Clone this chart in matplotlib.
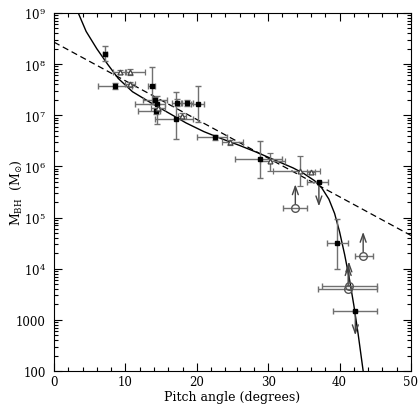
import matplotlib
matplotlib.use("Agg")
import matplotlib.pyplot as plt
import matplotlib.ticker as mticker
import numpy as np

plt.rcParams['font.family'] = ['DejaVu Serif']
plt.rcParams['mathtext.fontset'] = 'dejavuserif'
plt.rcParams['font.size'] = 8.5

# filled squares (log10 of mass)
sq_x = [7.1, 8.5, 13.7, 14.1, 14.4, 14.3, 17.2, 17.1, 18.6, 20.1, 22.5, 28.9, 37.1, 39.7, 42.2]
sq_m = [8.20, 7.58, 7.58, 7.29, 7.22, 7.09, 7.25, 6.93, 7.24, 7.22, 6.57, 6.14, 5.69, 4.50, 3.17]
sq_xlo = [6.8, 6.2, 13.2, 12.5, 11.3, 11.8, 16.5, 14.1, 17.8, 19.2, 20.0, 25.4, 35.4, 38.2, 39.1]
sq_xhi = [7.4, 10.9, 14.2, 15.8, 15.5, 14.9, 17.9, 19.5, 19.4, 21.0, 24.2, 32.0, 38.4, 41.2, 45.2]
sq_mlo = [8.06, 7.52, 7.22, 7.22, 6.83, 7.03, 7.19, 6.54, 7.18, 6.87, 6.52, 5.77, 5.69, 4.00, 3.17]
sq_mhi = [8.36, 7.64, 7.94, 7.36, 7.38, 7.15, 7.31, 7.46, 7.30, 7.57, 6.62, 6.50, 5.69, 4.97, 3.17]
# upper limits (down arrows) among the squares
ul_x = [37.1, 42.2]
ul_m = [5.69, 3.17]

# open triangles
tr_x = [9.2, 10.6, 10.6, 14.6, 17.9, 24.6, 30.3, 34.5, 36.0]
tr_m = [7.84, 7.84, 7.61, 7.15, 6.99, 6.47, 6.11, 5.92, 5.89]
tr_xlo = [8.3, 9.9, 9.9, 13.6, 17.3, 23.5, 28.9, 30.7, 35.4]
tr_xhi = [10.1, 12.7, 11.3, 15.6, 18.5, 26.5, 32.4, 37.3, 36.6]
tr_mlo = [7.80, 7.78, 7.56, 7.08, 6.93, 6.42, 5.92, 5.62, 5.86]
tr_mhi = [7.88, 7.90, 7.66, 7.22, 7.05, 6.52, 6.26, 6.21, 5.92]

# open circles, lower limits (up arrows)
ci_x = [33.8, 43.3, 41.3, 41.2]
ci_m = [5.18, 4.25, 3.67, 3.60]
ci_xlo = [32.1, 42.2, 37.5, 37.0]
ci_xhi = [35.4, 44.7, 45.2, 45.2]

# solid curve
cv_x = [3.4, 4.5, 6.0, 7.5, 9.0, 11.0, 13.5, 16.0, 18.5, 21.0, 23.5, 26.0, 28.5, 31.0,
        33.5, 35.0, 36.5, 37.5, 38.5, 39.3, 40.0, 40.7, 41.4, 42.0, 42.6, 43.3]
cv_m = [9.00, 8.64, 8.30, 8.00, 7.72, 7.46, 7.25, 7.05, 6.85, 6.68, 6.54, 6.41, 6.27, 6.12,
        5.97, 5.86, 5.72, 5.58, 5.36, 5.08, 4.72, 4.28, 3.78, 3.28, 2.72, 2.00]

# dashed linear fit
ln_x = [0, 50]
ln_m = [8.43, 4.65]

y_exp = [2, 3, 4, 5, 6, 7, 8, 9]
y_labels = ['100', '1000', r'$10^{4}$', r'$10^{5}$', r'$10^{6}$', r'$10^{7}$', r'$10^{8}$', r'$10^{9}$']

arrow_len = 0.47
ecol = '#707070'

fig = plt.figure(figsize=(4.2, 4.14), dpi=100)
ax = fig.add_axes([54/420, 42/414, 357/420, 358/414])

def pw(a):
    return 10**np.array(a, dtype=float)

ax.plot(cv_x, pw(cv_m), color='black', lw=1.0, zorder=3)
ax.plot(ln_x, pw(ln_m), color='black', lw=0.9, ls=(0, (5, 3)), zorder=3)

sx = np.array(sq_x); sm = np.array(sq_m)
ax.errorbar(sx, pw(sm),
            xerr=[sx - np.array(sq_xlo), np.array(sq_xhi) - sx],
            yerr=[pw(sm) - pw(sq_mlo), pw(sq_mhi) - pw(sm)],
            fmt='s', ms=3.5, mfc='black', mec='black', ecolor=ecol, elinewidth=1,
            capsize=2.5, capthick=1, zorder=4)

tx = np.array(tr_x); tm = np.array(tr_m)
ax.errorbar(tx, pw(tm),
            xerr=[tx - np.array(tr_xlo), np.array(tr_xhi) - tx],
            yerr=[pw(tm) - pw(tr_mlo), pw(tr_mhi) - pw(tm)],
            fmt='^', ms=3.5, mfc='white', mec='#444444', mew=0.9, ecolor=ecol,
            elinewidth=1, capsize=2.5, capthick=1, zorder=4)

cx = np.array(ci_x); cm = np.array(ci_m)
ax.errorbar(cx, pw(cm), xerr=[cx - np.array(ci_xlo), np.array(ci_xhi) - cx],
            fmt='o', ms=5.5, mfc='none', mec='#555555', mew=1, ecolor=ecol,
            elinewidth=1, capsize=2.5, capthick=1, zorder=4)

for x, m in zip(ci_x, ci_m):
    ax.annotate('', xy=(x, 10**(m + arrow_len)), xytext=(x, 10**m),
                arrowprops=dict(arrowstyle='->,head_length=0.7,head_width=0.25',
                                color='#444444', lw=1, shrinkA=3, shrinkB=0))
for x, m in zip(ul_x, ul_m):
    ax.annotate('', xy=(x, 10**(m - arrow_len)), xytext=(x, 10**m),
                arrowprops=dict(arrowstyle='->,head_length=0.7,head_width=0.25',
                                color='#444444', lw=1, shrinkA=2, shrinkB=0))

ax.set_xlim(0, 50)
ax.set_yscale('log')
ax.set_ylim(100, 1e9)

ax.xaxis.set_major_locator(mticker.MultipleLocator(10))
ax.xaxis.set_minor_locator(mticker.MultipleLocator(2))
ax.set_yticks(pw(y_exp))
ax.set_yticklabels(y_labels)
minor = [s * 10**e for e in y_exp[:-1] for s in range(2, 10)]
ax.set_yticks(minor, minor=True)
ax.yaxis.set_minor_formatter(mticker.NullFormatter())

ax.tick_params(which='both', direction='in', top=True, right=True, width=0.8)
ax.tick_params(which='major', length=6)
ax.tick_params(which='minor', length=3)
ax.tick_params(axis='x', which='major', pad=3)
ax.tick_params(axis='y', which='major', pad=6)
for s in ax.spines.values():
    s.set_linewidth(0.8)

ax.set_xlabel('Pitch angle (degrees)', fontsize=9, labelpad=1)
ax.set_ylabel(r'M$_{\rm BH}$  (M$_{\odot}$)', fontsize=9)
ax.yaxis.set_label_coords(-0.085, 0.5)

fig.savefig('out.png', dpi=100)
